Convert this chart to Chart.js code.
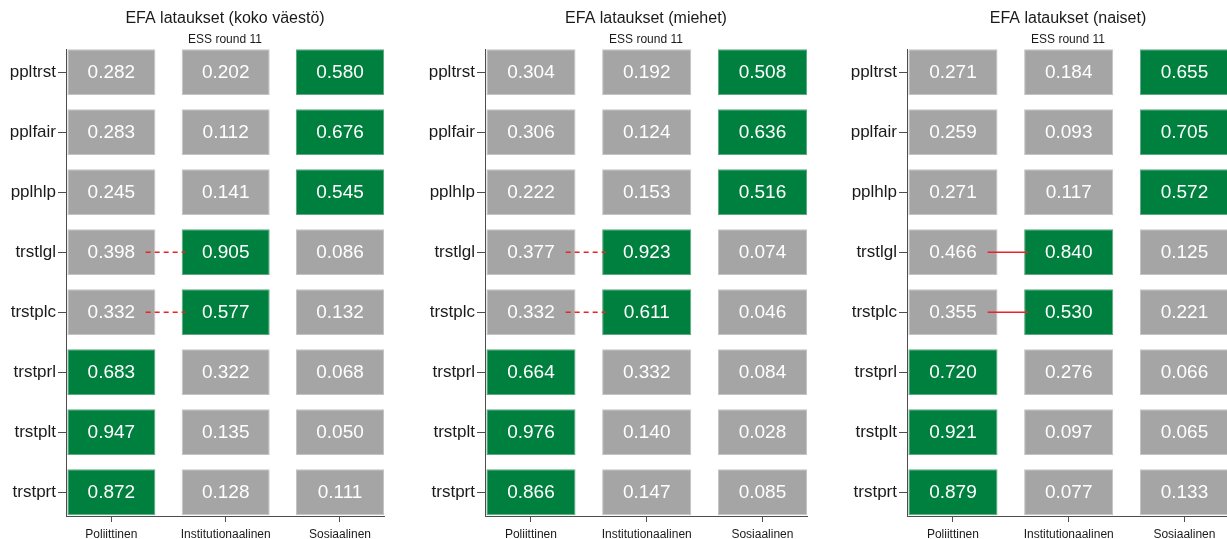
<!DOCTYPE html>
<html>
<head>
<meta charset="utf-8">
<script src="https://cdn.jsdelivr.net/npm/chart.js@4.4.1/dist/chart.umd.min.js"></script>
<style>
  html, body { margin: 0; padding: 0; background: #fff; overflow: hidden; width: 1227px; height: 539px; }
  .panel { position: absolute; top: 0; height: 539px; }
</style>
</head>
<body>
<div class="panel" style="left:0"><canvas id="c1" width="400" height="539"></canvas></div>
<div class="panel" style="left:400px"><canvas id="c2" width="410" height="539"></canvas></div>
<div class="panel" style="left:820px"><canvas id="c3" width="412" height="539"></canvas></div>
<script>
// muuttujat (rivit) ja faktorit (sarakkeet)
const rowLabels = ['ppltrst', 'pplfair', 'pplhlp', 'trstlgl', 'trstplc', 'trstprl', 'trstplt', 'trstprt'];
const factorLabels = ['Poliittinen', 'Institutionaalinen', 'Sosiaalinen'];

// koko väestö
const kokoPoliittinen = [0.282, 0.283, 0.245, 0.398, 0.332, 0.683, 0.947, 0.872];
const kokoInstitutionaalinen = [0.202, 0.112, 0.141, 0.905, 0.577, 0.322, 0.135, 0.128];
const kokoSosiaalinen = [0.580, 0.676, 0.545, 0.086, 0.132, 0.068, 0.050, 0.111];
const kokoRistilataus = ['trstlgl', 'trstplc'];

// miehet
const miehetPoliittinen = [0.304, 0.306, 0.222, 0.377, 0.332, 0.664, 0.976, 0.866];
const miehetInstitutionaalinen = [0.192, 0.124, 0.153, 0.923, 0.611, 0.332, 0.140, 0.147];
const miehetSosiaalinen = [0.508, 0.636, 0.516, 0.074, 0.046, 0.084, 0.028, 0.085];
const miehetRistilataus = ['trstlgl', 'trstplc'];

// naiset
const naisetPoliittinen = [0.271, 0.259, 0.271, 0.466, 0.355, 0.720, 0.921, 0.879];
const naisetInstitutionaalinen = [0.184, 0.093, 0.117, 0.840, 0.530, 0.276, 0.097, 0.077];
const naisetSosiaalinen = [0.655, 0.705, 0.572, 0.125, 0.221, 0.066, 0.065, 0.133];
const naisetRistilataus = ['trstlgl', 'trstplc'];

const FONT = '"Liberation Sans", Arial, Helvetica, sans-serif';
const GREEN = '#00803f';
const GREEN_EDGE = '#5fa982';
const GRAY = '#a5a5a5';
const GRAY_EDGE = '#c4c4c4';
const AXIS = '#4d4d4d';
const HALF = 0.385; // puolet ruudun leveydestä
const EDGE = 0.012; // pieni rako akselin ja ruutujen väliin

// tekstit ruutuihin + otsikot
const tilePlugin = {
  id: 'tileText',
  afterDatasetsDraw(chart) {
    const ctx = chart.ctx;
    ctx.save();
    ctx.font = '19px ' + FONT;
    ctx.fillStyle = '#ffffff';
    ctx.textAlign = 'center';
    ctx.textBaseline = 'middle';
    chart.data.datasets.forEach((ds, di) => {
      if (!ds.loadings) return;
      chart.getDatasetMeta(di).data.forEach((bar, i) => {
        const p = bar.getCenterPoint();
        ctx.fillText(ds.loadings[i].toFixed(3), p.x, p.y + 1);
      });
    });
    ctx.restore();
  },
  afterDraw(chart, args, opts) {
    const ctx = chart.ctx;
    const cx = (chart.chartArea.left + chart.chartArea.right) / 2;
    ctx.save();
    ctx.fillStyle = '#1a1a1a';
    ctx.textAlign = 'center';
    ctx.textBaseline = 'middle';
    ctx.font = '16px ' + FONT;
    ctx.fillText(opts.title, cx, 19);
    ctx.font = '12px ' + FONT;
    ctx.fillText(opts.subtitle, cx, 40);
    ctx.restore();
  }
};

function makePanel(id, title, cols, crossRows, dashed, axisWidth, padRight) {
  const rowMax = rowLabels.map((r, i) => Math.max(...cols.map(c => c[i])));

  const tiles = cols.map((vals, j) => ({
    type: 'bar',
    order: 1,
    loadings: vals,
    data: rowLabels.map((r, i) => ({ x: [j - HALF, j + HALF], y: i })),
    backgroundColor: vals.map((v, i) => v === rowMax[i] ? GREEN : GRAY),
    borderColor: vals.map((v, i) => v === rowMax[i] ? GREEN_EDGE : GRAY_EDGE),
    borderWidth: 1,
    borderSkipped: false,
    grouped: false,
    categoryPercentage: 1,
    barPercentage: 0.765
  }));

  // ristilataukset: punainen viiva 1. ja 2. sarakkeen välille
  const links = crossRows.map(name => {
    const i = rowLabels.indexOf(name);
    return {
      type: 'line',
      order: 0,
      data: [{ x: 0.3, y: i }, { x: 1 - 0.35, y: i }],
      borderColor: '#ee2222',
      borderWidth: 1.5,
      borderDash: dashed ? [5, 4] : [],
      pointRadius: 0,
      fill: false
    };
  });

  new Chart(document.getElementById(id), {
    type: 'bar',
    data: { datasets: tiles.concat(links) },
    options: {
      indexAxis: 'y',
      responsive: false,
      animation: false,
      layout: { padding: { top: 49, right: padRight, bottom: 0, left: 0 } },
      plugins: {
        legend: { display: false },
        tooltip: { enabled: false },
        tileText: { title: title, subtitle: 'ESS round 11' }
      },
      scales: {
        x: {
          type: 'linear',
          min: -HALF - EDGE,
          max: factorLabels.length - 1 + HALF,
          afterBuildTicks: s => { s.ticks = factorLabels.map((f, i) => ({ value: i })); },
          afterFit: s => { s.height = 23; },
          ticks: {
            callback: v => factorLabels[v],
            font: { family: FONT, size: 12 },
            color: '#1a1a1a',
            padding: 5,
            maxRotation: 0,
            autoSkip: false
          },
          grid: { drawOnChartArea: false, tickLength: 6, color: AXIS },
          border: { color: AXIS, width: 1 }
        },
        y: {
          type: 'linear',
          reverse: true,
          offset: false,
          min: -HALF,
          max: rowLabels.length - 1 + HALF + EDGE,
          afterBuildTicks: s => { s.ticks = rowLabels.map((r, i) => ({ value: i })); },
          afterFit: s => { s.width = axisWidth; },
          ticks: {
            callback: v => rowLabels[v],
            font: { family: FONT, size: 17 },
            color: '#1a1a1a',
            padding: 2,
            autoSkip: false
          },
          grid: { drawOnChartArea: false, offset: false, tickLength: 8, color: AXIS },
          border: { color: AXIS, width: 1 }
        }
      }
    },
    plugins: [tilePlugin]
  });
}

makePanel('c1', 'EFA lataukset (koko väestö)',
  [kokoPoliittinen, kokoInstitutionaalinen, kokoSosiaalinen], kokoRistilataus, true, 66, 16);
makePanel('c2', 'EFA lataukset (miehet)',
  [miehetPoliittinen, miehetInstitutionaalinen, miehetSosiaalinen], miehetRistilataus, true, 85, 3);
makePanel('c3', 'EFA lataukset (naiset)',
  [naisetPoliittinen, naisetInstitutionaalinen, naisetSosiaalinen], naisetRistilataus, false, 87, 3);
</script>
</body>
</html>
